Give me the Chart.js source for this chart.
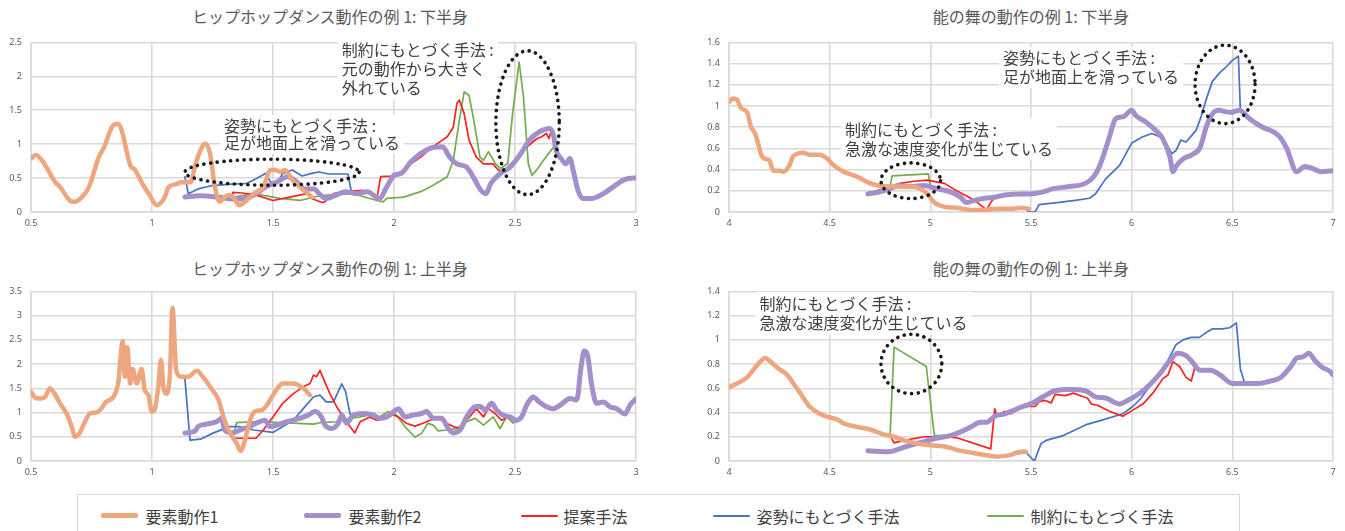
<!DOCTYPE html>
<html>
<head>
<meta charset="utf-8">
<script src="https://cdn.jsdelivr.net/npm/chart.js@4"></script>
<style>
  body { margin: 0; background: #fff; width: 1345px; height: 531px; overflow: hidden; position: relative; }
  canvas { position: absolute; }
  .title { position: absolute; text-align: center; font: 16px "Noto Sans CJK JP", "Noto Sans", sans-serif; color: #595959; line-height: 20px; }
  #legend { position: absolute; left: 77px; top: 494px; width: 1163px; height: 60px; border: 1.5px solid #d9d9d9; box-sizing: border-box; }
  .lg-line { position: absolute; width: 37px; border-radius: 2px; }
  .lg-text { position: absolute; font: 16px "Noto Sans CJK JP", "Noto Sans", sans-serif; color: #404040; line-height: 20px; }
</style>
</head>
<body>
<div class="title" style="left:0;top:6px;width:660px">ヒップホップダンス動作の例 1: 下半身</div>
<div class="title" style="left:691px;top:6px;width:680px">能の舞の動作の例 1: 下半身</div>
<div class="title" style="left:0;top:258px;width:660px">ヒップホップダンス動作の例 1: 上半身</div>
<div class="title" style="left:691px;top:258px;width:680px">能の舞の動作の例 1: 上半身</div>
<canvas id="c1"></canvas>
<canvas id="c2"></canvas>
<canvas id="c3"></canvas>
<canvas id="c4"></canvas>
<div id="legend"></div>
<script>
const seriesNames = ["要素動作1", "要素動作2", "提案手法", "姿勢にもとづく手法", "制約にもとづく手法"];

// tick values
const hipTicksX = [0.5, 1, 1.5, 2, 2.5, 3];
const nohTicksX = [4, 4.5, 5, 5.5, 6, 6.5, 7];
const hipLowerTicksY = [0, 0.5, 1, 1.5, 2, 2.5];
const nohLowerTicksY = [0, 0.2, 0.4, 0.6, 0.8, 1, 1.2, 1.4, 1.6];
const hipUpperTicksY = [0, 0.5, 1, 1.5, 2, 2.5, 3, 3.5];
const nohUpperTicksY = [0, 0.2, 0.4, 0.6, 0.8, 1, 1.2, 1.4];

// hip hop, lower body  [time, value]
const hipLowerEl1 = [[0.5,0.79],[0.52,0.84],[0.55,0.74],[0.6,0.44],[0.62,0.37],[0.66,0.17],[0.68,0.15],[0.71,0.22],[0.74,0.37],[0.78,0.81],[0.8,0.94],[0.84,1.28],[0.86,1.3],[0.875,1.2],[0.91,0.69],[0.93,0.62],[0.96,0.42],[0.99,0.25],[1.02,0.1],[1.05,0.2],[1.07,0.37],[1.1,0.41],[1.12,0.44],[1.16,0.44],[1.18,0.71],[1.21,0.98],[1.22,1.01],[1.24,0.86],[1.26,0.37],[1.28,0.15],[1.3,0.22],[1.32,0.25],[1.34,0.2],[1.36,0.1],[1.39,0.17],[1.42,0.27],[1.46,0.37],[1.49,0.62],[1.51,0.62],[1.53,0.59],[1.55,0.62],[1.58,0.47],[1.61,0.37],[1.65,0.25],[1.66,0.22]];
const hipLowerEl2 = [[1.136,0.22],[1.2,0.24],[1.27,0.22],[1.34,0.19],[1.39,0.2],[1.43,0.27],[1.47,0.37],[1.515,0.44],[1.56,0.52],[1.6,0.44],[1.63,0.34],[1.67,0.34],[1.69,0.27],[1.72,0.2],[1.76,0.25],[1.8,0.3],[1.845,0.27],[1.89,0.3],[1.94,0.2],[1.97,0.37],[2.0,0.54],[2.03,0.57],[2.07,0.74],[2.11,0.86],[2.16,0.95],[2.2,0.96],[2.23,0.81],[2.26,0.71],[2.3,0.66],[2.335,0.47],[2.355,0.34],[2.38,0.27],[2.4,0.42],[2.44,0.57],[2.48,0.66],[2.52,0.84],[2.56,1.06],[2.6,1.18],[2.645,1.23],[2.66,1.11],[2.67,0.91],[2.69,0.79],[2.71,0.71],[2.727,0.79],[2.74,0.62],[2.76,0.32],[2.78,0.2],[2.82,0.2],[2.865,0.27],[2.906,0.37],[2.948,0.47],[2.99,0.5],[3.0,0.5]];
const hipLowerProp = [[1.136,0.22],[1.2,0.23],[1.27,0.22],[1.33,0.22],[1.335,0.29],[1.37,0.28],[1.42,0.26],[1.5,0.17],[1.57,0.22],[1.64,0.27],[1.66,0.2],[1.694,0.15],[1.71,0.14],[1.75,0.27],[1.8,0.3],[1.87,0.32],[1.93,0.22],[1.945,0.52],[2.0,0.53],[2.02,0.57],[2.07,0.71],[2.11,0.81],[2.16,0.96],[2.2,1.06],[2.22,1.11],[2.245,1.25],[2.26,1.6],[2.27,1.65],[2.29,1.45],[2.31,1.06],[2.34,0.81],[2.37,0.71],[2.41,0.71],[2.42,0.66],[2.44,0.59],[2.465,0.64],[2.51,0.81],[2.55,0.96],[2.59,1.08],[2.61,1.11],[2.63,1.16],[2.64,1.08],[2.65,1.2],[2.665,1.0],[2.68,0.81],[2.71,0.71],[2.727,0.79],[2.74,0.62]];
const hipLowerPose = [[1.136,0.52],[1.15,0.27],[1.19,0.34],[1.25,0.39],[1.33,0.41],[1.39,0.42],[1.43,0.49],[1.47,0.57],[1.49,0.44],[1.52,0.44],[1.54,0.57],[1.58,0.62],[1.62,0.53],[1.66,0.57],[1.69,0.59],[1.73,0.56],[1.81,0.56],[1.825,0.27],[1.84,0.25]];
const hipLowerCons = [[1.136,0.22],[1.27,0.22],[1.34,0.22],[1.42,0.27],[1.53,0.2],[1.61,0.17],[1.694,0.24],[1.73,0.25],[1.83,0.27],[1.93,0.17],[1.955,0.15],[1.97,0.2],[2.04,0.22],[2.11,0.3],[2.16,0.39],[2.22,0.52],[2.245,0.76],[2.27,1.35],[2.29,1.77],[2.31,1.72],[2.33,1.35],[2.355,0.81],[2.37,0.76],[2.39,0.89],[2.42,0.71],[2.44,0.64],[2.47,0.71],[2.49,1.45],[2.517,2.21],[2.535,1.7],[2.555,0.71],[2.57,0.54],[2.59,0.62],[2.617,0.76],[2.66,0.96],[2.68,0.84],[2.7,0.71],[2.727,0.79],[2.74,0.62]];

// noh, lower body
const nohLowerEl1 = [[4.0,1.04],[4.02,1.07],[4.04,1.06],[4.06,0.98],[4.09,0.94],[4.11,0.8],[4.13,0.74],[4.15,0.61],[4.16,0.54],[4.18,0.5],[4.2,0.49],[4.22,0.39],[4.25,0.39],[4.27,0.38],[4.3,0.44],[4.32,0.53],[4.37,0.56],[4.4,0.54],[4.45,0.54],[4.49,0.5],[4.52,0.44],[4.57,0.38],[4.64,0.33],[4.69,0.28],[4.74,0.25],[4.8,0.24],[4.885,0.24],[4.95,0.22],[4.985,0.17],[5.02,0.09],[5.07,0.05],[5.13,0.04],[5.2,0.02],[5.27,0.02],[5.33,0.03],[5.4,0.03],[5.45,0.04],[5.49,0.03]];
const nohLowerEl2 = [[4.69,0.17],[4.75,0.19],[4.8,0.22],[4.84,0.25],[4.9,0.24],[4.97,0.25],[5.03,0.22],[5.1,0.19],[5.15,0.14],[5.18,0.09],[5.22,0.11],[5.27,0.13],[5.32,0.14],[5.37,0.16],[5.45,0.17],[5.49,0.17],[5.56,0.19],[5.61,0.22],[5.69,0.24],[5.77,0.27],[5.81,0.33],[5.84,0.43],[5.89,0.71],[5.92,0.88],[5.96,0.9],[6.0,0.96],[6.02,0.91],[6.07,0.85],[6.12,0.77],[6.155,0.69],[6.19,0.52],[6.205,0.38],[6.22,0.43],[6.255,0.5],[6.3,0.54],[6.34,0.61],[6.37,0.8],[6.395,0.91],[6.43,0.96],[6.49,0.94],[6.535,0.96],[6.585,0.88],[6.65,0.8],[6.7,0.76],[6.735,0.71],[6.77,0.6],[6.82,0.38],[6.86,0.43],[6.9,0.41],[6.94,0.38],[7.0,0.39]];
const nohLowerProp = [[4.7,0.18],[4.8,0.23],[4.85,0.27],[4.92,0.29],[4.985,0.3],[5.07,0.27],[5.13,0.2],[5.22,0.11],[5.28,0.02],[5.3,0.09],[5.32,0.14]];
const nohLowerPose = [[5.4,0.03],[5.47,0.04],[5.49,0.0],[5.52,0.0],[5.54,0.07],[5.64,0.09],[5.72,0.11],[5.79,0.13],[5.82,0.17],[5.87,0.31],[5.94,0.44],[6.0,0.65],[6.055,0.71],[6.1,0.74],[6.14,0.71],[6.17,0.65],[6.2,0.55],[6.22,0.58],[6.245,0.68],[6.27,0.66],[6.32,0.77],[6.345,0.9],[6.37,1.06],[6.4,1.23],[6.44,1.32],[6.47,1.37],[6.5,1.43],[6.53,1.47],[6.54,0.96],[6.585,0.88]];
const nohLowerCons = [[4.7,0.18],[4.8,0.24],[4.81,0.34],[4.99,0.36],[5.0,0.24],[5.03,0.22]];

// hip hop, upper body
const hipUpperEl1 = [[0.5,1.43],[0.517,1.31],[0.537,1.29],[0.558,1.32],[0.578,1.5],[0.592,1.43],[0.62,1.19],[0.647,0.98],[0.668,0.71],[0.682,0.5],[0.7,0.57],[0.723,0.81],[0.744,0.98],[0.77,1.0],[0.79,1.08],[0.81,1.22],[0.84,1.32],[0.86,1.6],[0.879,2.47],[0.888,1.74],[0.898,2.35],[0.91,1.6],[0.92,1.9],[0.937,1.6],[0.957,1.9],[0.97,1.46],[0.985,1.36],[0.999,1.02],[1.01,1.05],[1.026,1.53],[1.037,2.09],[1.047,1.53],[1.06,1.39],[1.074,1.8],[1.085,3.16],[1.1,1.87],[1.12,1.74],[1.15,1.74],[1.185,1.86],[1.21,1.74],[1.25,1.46],[1.275,1.26],[1.295,0.91],[1.32,0.6],[1.35,0.36],[1.366,0.21],[1.384,0.43],[1.405,0.84],[1.425,1.02],[1.453,1.05],[1.474,1.15],[1.5,1.36],[1.54,1.6],[1.584,1.6],[1.625,1.5],[1.653,1.36]];
const hipUpperEl2 = [[1.136,0.58],[1.178,0.62],[1.19,0.71],[1.226,0.76],[1.267,0.81],[1.288,0.88],[1.3,0.64],[1.33,0.58],[1.364,0.64],[1.405,0.71],[1.43,0.78],[1.467,0.84],[1.487,0.71],[1.515,0.74],[1.556,0.81],[1.61,0.88],[1.646,0.95],[1.674,1.02],[1.7,0.91],[1.715,0.74],[1.742,0.67],[1.77,0.78],[1.784,0.95],[1.804,0.78],[1.832,0.95],[1.873,0.98],[1.914,0.95],[1.94,0.88],[1.97,0.91],[1.99,0.98],[2.018,1.08],[2.045,0.91],[2.08,0.95],[2.114,0.98],[2.135,1.02],[2.162,0.88],[2.197,0.88],[2.224,0.67],[2.245,0.58],[2.273,0.64],[2.3,0.91],[2.335,1.12],[2.355,1.13],[2.376,1.05],[2.403,1.19],[2.424,1.05],[2.45,0.95],[2.48,0.91],[2.506,0.84],[2.527,0.91],[2.548,1.15],[2.575,1.32],[2.6,1.22],[2.63,1.12],[2.658,1.08],[2.686,1.15],[2.727,1.29],[2.755,1.26],[2.773,1.94],[2.786,2.27],[2.8,2.18],[2.816,1.6],[2.837,1.19],[2.865,1.22],[2.892,1.12],[2.92,1.08],[2.954,0.97],[2.975,1.15],[3.0,1.28]];
const hipUpperProp = [[1.336,0.47],[1.43,0.47],[1.46,0.64],[1.5,0.91],[1.54,1.19],[1.584,1.39],[1.625,1.53],[1.653,1.6],[1.667,1.77],[1.68,1.74],[1.694,1.87],[1.708,1.7],[1.735,1.39],[1.763,1.12],[1.79,0.91],[1.818,0.71],[1.838,0.58],[1.86,0.81],[1.9,0.91],[1.928,0.84],[1.963,0.88],[1.983,0.98],[2.018,0.91],[2.05,0.78],[2.087,0.72],[2.12,0.78],[2.148,0.84],[2.183,0.88],[2.217,0.78],[2.245,0.71],[2.273,0.67],[2.307,0.88],[2.34,1.08],[2.37,0.91],[2.39,1.08],[2.417,0.98],[2.445,0.84],[2.47,0.91],[2.506,0.81],[2.527,0.88],[2.548,1.12],[2.575,1.3],[2.6,1.2],[2.63,1.1],[2.658,1.06],[2.686,1.13],[2.727,1.27],[2.755,1.24]];
const hipUpperPose = [[1.136,1.7],[1.157,0.43],[1.2,0.45],[1.25,0.57],[1.32,0.71],[1.36,0.71],[1.42,0.64],[1.5,0.59],[1.54,0.71],[1.584,0.84],[1.625,1.08],[1.667,1.32],[1.694,1.36],[1.72,1.22],[1.75,1.22],[1.784,1.59],[1.8,1.43],[1.818,0.98],[1.825,0.91]];
const hipUpperCons = [[1.336,0.54],[1.35,0.79],[1.42,0.81],[1.54,0.79],[1.667,0.76],[1.694,0.79],[1.763,0.81],[1.818,0.88],[1.86,0.91],[1.9,0.95],[1.94,0.91],[1.976,1.02],[2.01,0.95],[2.045,0.71],[2.087,0.49],[2.114,0.57],[2.14,0.78],[2.162,0.74],[2.183,0.62],[2.217,0.64],[2.259,0.67],[2.3,0.81],[2.335,0.88],[2.37,0.74],[2.41,0.91],[2.438,0.67],[2.465,0.91],[2.493,0.78],[2.506,0.84],[2.527,0.9],[2.548,1.14],[2.575,1.31],[2.6,1.21],[2.63,1.11],[2.658,1.07],[2.686,1.14],[2.727,1.28],[2.755,1.25]];

// noh, upper body
const nohUpperEl1 = [[4.0,0.61],[4.04,0.64],[4.09,0.69],[4.12,0.75],[4.155,0.82],[4.18,0.85],[4.2,0.83],[4.24,0.77],[4.29,0.71],[4.32,0.64],[4.354,0.56],[4.4,0.45],[4.45,0.39],[4.5,0.36],[4.54,0.34],[4.57,0.31],[4.64,0.28],[4.7,0.26],[4.77,0.22],[4.82,0.2],[4.87,0.17],[4.935,0.145],[5.0,0.13],[5.07,0.12],[5.135,0.09],[5.2,0.07],[5.27,0.05],[5.33,0.036],[5.4,0.05],[5.43,0.07],[5.475,0.077]];
const nohUpperEl2 = [[4.69,0.085],[4.74,0.08],[4.79,0.077],[4.84,0.096],[4.9,0.13],[4.97,0.16],[5.035,0.19],[5.1,0.21],[5.15,0.24],[5.2,0.28],[5.25,0.32],[5.28,0.32],[5.32,0.37],[5.37,0.39],[5.4,0.41],[5.46,0.45],[5.51,0.48],[5.56,0.53],[5.62,0.58],[5.69,0.59],[5.77,0.58],[5.82,0.53],[5.87,0.52],[5.94,0.47],[5.99,0.51],[6.04,0.56],[6.09,0.63],[6.14,0.72],[6.19,0.83],[6.23,0.89],[6.27,0.87],[6.3,0.82],[6.34,0.75],[6.39,0.75],[6.44,0.71],[6.5,0.64],[6.55,0.64],[6.62,0.64],[6.69,0.66],[6.74,0.69],[6.79,0.78],[6.82,0.85],[6.85,0.86],[6.88,0.89],[6.91,0.83],[6.95,0.77],[6.985,0.74],[7.0,0.71]];
const nohUpperProp = [[4.8,0.21],[4.82,0.15],[4.87,0.17],[4.97,0.2],[5.07,0.2],[5.135,0.19],[5.3,0.1],[5.32,0.43],[5.33,0.38],[5.37,0.41],[5.4,0.39],[5.46,0.45],[5.52,0.45],[5.54,0.49],[5.57,0.5],[5.6,0.48],[5.62,0.55],[5.67,0.54],[5.71,0.56],[5.76,0.53],[5.78,0.52],[5.8,0.47],[5.83,0.46],[5.89,0.41],[5.956,0.37],[6.006,0.42],[6.056,0.47],[6.105,0.56],[6.155,0.68],[6.18,0.71],[6.205,0.82],[6.238,0.78],[6.27,0.69],[6.296,0.66],[6.313,0.77],[6.34,0.75],[6.39,0.75],[6.44,0.71],[6.5,0.64],[6.55,0.64],[6.62,0.64],[6.69,0.66],[6.74,0.69],[6.79,0.78],[6.82,0.84],[6.85,0.86],[6.88,0.88],[6.91,0.83],[6.95,0.77],[6.985,0.74],[7.0,0.71]];
const nohUpperPose = [[5.4,0.05],[5.475,0.07],[5.517,0.0],[5.55,0.145],[5.575,0.17],[5.66,0.21],[5.774,0.3],[5.857,0.34],[5.956,0.39],[6.006,0.45],[6.047,0.52],[6.09,0.62],[6.14,0.72],[6.18,0.83],[6.22,0.96],[6.255,1.0],[6.296,1.02],[6.337,1.02],[6.37,1.06],[6.4,1.09],[6.45,1.09],[6.487,1.1],[6.52,1.14],[6.54,0.76],[6.56,0.65],[6.62,0.64]];
const nohUpperCons = [[4.8,0.21],[4.82,0.94],[4.98,0.78],[5.02,0.21],[5.1,0.21],[5.15,0.24],[5.2,0.28],[5.25,0.32],[5.3,0.33],[5.32,0.37],[5.37,0.39],[5.4,0.41],[5.46,0.45],[5.51,0.48],[5.56,0.53],[5.62,0.58],[5.69,0.59],[5.77,0.58],[5.82,0.53],[5.87,0.52],[5.94,0.47],[5.99,0.51],[6.04,0.56],[6.09,0.63],[6.14,0.72],[6.19,0.83],[6.23,0.89]];

// callout texts
const noteSlide = ["姿勢にもとづく手法 :", "足が地面上を滑っている"];
const noteDeviate = ["制約にもとづく手法 :", "元の動作から大きく", "外れている"];
const noteJerk = ["制約にもとづく手法 :", "急激な速度変化が生じている"];

const seriesColors = ["#eea67e", "#a390cb", "#ff2121", "#4673c2", "#72ad4b"];
const seriesWidths = [4.5, 5, 1.7, 1.7, 1.7];
const FONT = '"Noto Sans CJK JP", "Noto Sans", sans-serif';

// callouts: white-backed text under the lines, dotted rings over them
const notesPlugin = {
  id: "notes",
  beforeDatasetsDraw(chart, args, opts) {
    const ctx = chart.ctx, xs = chart.scales.x, ys = chart.scales.y;
    (opts.texts || []).forEach((t) => {
      ctx.save();
      ctx.font = "16px " + FONT;
      ctx.textBaseline = "middle";
      const px = xs.getPixelForValue(t.x), py = ys.getPixelForValue(t.y);
      const w = Math.max(...t.lines.map((l) => ctx.measureText(l).width));
      ctx.fillStyle = "#fff";
      ctx.fillRect(px - 4, py - t.lh / 2 - 2, w + 8, t.lh * t.lines.length + 4);
      ctx.fillStyle = "#404040";
      t.lines.forEach((l, i) => ctx.fillText(l, px, py + i * t.lh));
      ctx.restore();
    });
  },
  afterDatasetsDraw(chart, args, opts) {
    const ctx = chart.ctx, xs = chart.scales.x, ys = chart.scales.y;
    (opts.rings || []).forEach((r) => {
      const cx = xs.getPixelForValue(r.x), cy = ys.getPixelForValue(r.y);
      const rx = Math.abs(xs.getPixelForValue(r.x + r.rx) - cx);
      const ry = Math.abs(ys.getPixelForValue(r.y + r.ry) - cy);
      ctx.save();
      ctx.strokeStyle = "#1a1a1a";
      ctx.lineWidth = 3.6;
      ctx.lineCap = "round";
      ctx.setLineDash([0.1, 6.6]);
      ctx.beginPath();
      ctx.ellipse(cx, cy, rx, ry, 0, 0, Math.PI * 2);
      ctx.stroke();
      ctx.restore();
    });
  },
};

const panels = [
  {
    id: "c1", box: { left: 0, top: 28, width: 660, height: 212 }, plot: { left: 31, right: 636, top: 42, bottom: 212 },
    xMin: 0.5, xMax: 3, xTicks: hipTicksX, yMax: 2.5, yTicks: hipLowerTicksY,
    series: [hipLowerEl1, hipLowerEl2, hipLowerProp, hipLowerPose, hipLowerCons],
    notes: {
      texts: [{ lines: noteSlide, x: 1.298, y: 1.275, lh: 17.5 }, { lines: noteDeviate, x: 1.784, y: 2.386, lh: 19 }],
      rings: [{ x: 1.496, y: 0.586, rx: 0.36, ry: 0.192 }, { x: 2.552, y: 1.316, rx: 0.131, ry: 1.06 }],
    },
  },
  {
    id: "c2", box: { left: 670, top: 28, width: 675, height: 212 }, plot: { left: 729, right: 1333, top: 42, bottom: 212 },
    xMin: 4, xMax: 7, xTicks: nohTicksX, yMax: 1.6, yTicks: nohLowerTicksY,
    series: [nohLowerEl1, nohLowerEl2, nohLowerProp, nohLowerPose, nohLowerCons],
    notes: {
      texts: [{ lines: noteSlide, x: 5.361, y: 1.451, lh: 18.5 }, { lines: noteJerk, x: 4.576, y: 0.778, lh: 19 }],
      rings: [{ x: 6.464, y: 1.204, rx: 0.149, ry: 0.37 }, { x: 4.903, y: 0.295, rx: 0.148, ry: 0.168 }],
    },
  },
  {
    id: "c3", box: { left: 0, top: 277, width: 660, height: 213 }, plot: { left: 31, right: 636, top: 291, bottom: 461 },
    xMin: 0.5, xMax: 3, xTicks: hipTicksX, yMax: 3.5, yTicks: hipUpperTicksY,
    series: [hipUpperEl1, hipUpperEl2, hipUpperProp, hipUpperPose, hipUpperCons],
    notes: { texts: [], rings: [] },
  },
  {
    id: "c4", box: { left: 670, top: 277, width: 675, height: 213 }, plot: { left: 729, right: 1333, top: 291, bottom: 461 },
    xMin: 4, xMax: 7, xTicks: nohTicksX, yMax: 1.4, yTicks: nohUpperTicksY,
    series: [nohUpperEl1, nohUpperEl2, nohUpperProp, nohUpperPose, nohUpperCons],
    notes: {
      texts: [{ lines: noteJerk, x: 4.151, y: 1.299, lh: 19.4 }],
      rings: [{ x: 4.906, y: 0.801, rx: 0.151, ry: 0.245 }],
    },
  },
];

function axisStyle() {
  return {
    grid: { color: "#d9d9d9", lineWidth: 1.6, drawTicks: false },
    border: { color: "#d9d9d9", width: 1.6 },
  };
}

panels.forEach((p) => {
  const cv = document.getElementById(p.id);
  cv.width = p.box.width;
  cv.height = p.box.height;
  cv.style.left = p.box.left + "px";
  cv.style.top = p.box.top + "px";

  new Chart(cv, {
    type: "scatter",
    data: {
      datasets: p.series.map((pts, i) => ({
        label: seriesNames[i],
        data: pts.map(([x, y]) => ({ x, y })),
        showLine: true,
        borderColor: seriesColors[i],
        borderWidth: seriesWidths[i],
        pointRadius: 0,
        fill: false,
        borderJoinStyle: "round",
        borderCapStyle: "round",
        cubicInterpolationMode: i < 2 ? "monotone" : "default",
      })),
    },
    options: {
      responsive: false,
      animation: false,
      events: [],
      layout: {
        padding: { left: 0, top: p.plot.top - p.box.top, right: p.box.left + p.box.width - p.plot.right, bottom: 0 },
      },
      plugins: { legend: { display: false }, tooltip: { enabled: false }, notes: p.notes },
      scales: {
        x: {
          type: "linear", min: p.xMin, max: p.xMax,
          afterBuildTicks: (a) => { a.ticks = p.xTicks.map((v) => ({ value: v })); },
          afterFit: (s) => { s.height = p.box.top + p.box.height - p.plot.bottom; },
          ...axisStyle(),
          ticks: { padding: 6, color: "#595959", font: { size: 9, family: "Noto Sans" }, maxRotation: 0, autoSkip: false, callback: (v) => String(v) },
        },
        y: {
          type: "linear", min: 0, max: p.yMax,
          afterBuildTicks: (a) => { a.ticks = p.yTicks.map((v) => ({ value: v })); },
          afterFit: (s) => { s.width = p.plot.left - p.box.left; },
          ...axisStyle(),
          ticks: { padding: 9, color: "#595959", font: { size: 9, family: "Noto Sans" }, callback: (v) => String(v) },
        },
      },
    },
    plugins: [notesPlugin],
  });
});

// shared legend
const legendLineX = [101, 304, 521, 713, 987];
const legendTextX = [146, 349, 564, 757, 1031];
const $legend = document.getElementById("legend");
seriesNames.forEach((name, i) => {
  const line = document.createElement("div");
  line.className = "lg-line";
  line.style.left = legendLineX[i] - 78.5 + "px";
  line.style.height = (i < 2 ? 4.5 : 2) + "px";
  line.style.top = 20.5 - (i < 2 ? 2.25 : 1) + "px";
  line.style.background = seriesColors[i];
  const txt = document.createElement("div");
  txt.className = "lg-text";
  txt.style.left = legendTextX[i] - 78.5 + "px";
  txt.style.top = "10.5px";
  txt.textContent = name;
  $legend.append(line, txt);
});
</script>
</body>
</html>
